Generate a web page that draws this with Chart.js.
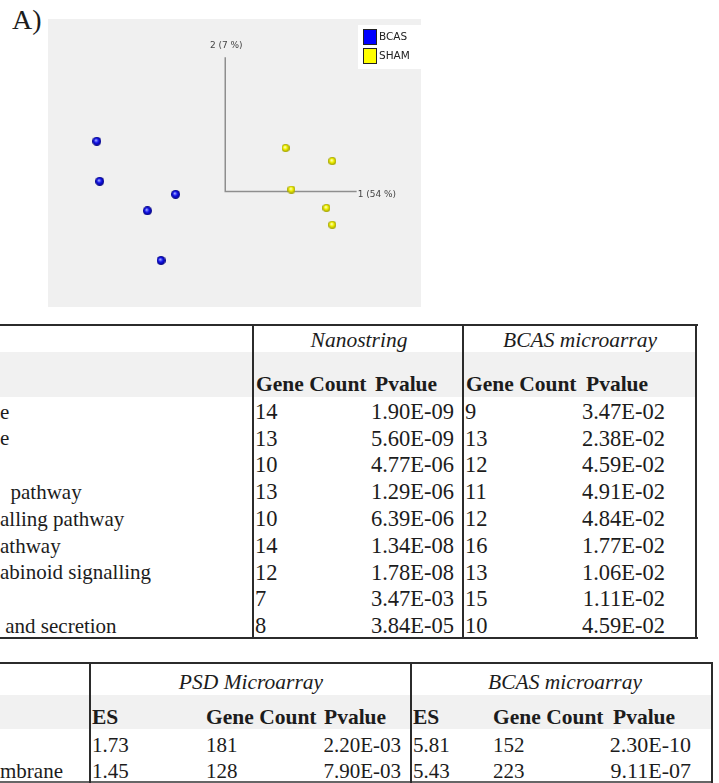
<!DOCTYPE html>
<html>
<head>
<meta charset="utf-8">
<script src="https://cdn.jsdelivr.net/npm/chart.js@4/dist/chart.umd.min.js"></script>
<style>
  html, body { margin:0; padding:0; background:#fff; }
  #page { position:relative; width:719px; height:783px; overflow:hidden; background:#fff; }
  .t { position:absolute; white-space:pre; font-family:"Liberation Serif","Times New Roman",serif; color:#1c1c1c; }
  .r { position:absolute; }
</style>
</head>
<body>
<div id="page">
  <canvas id="pca" width="373" height="288" style="position:absolute;left:48px;top:19px;width:373px;height:288px"></canvas>
</div>
<script>
// ---------------- DATA ----------------
// PCA scores (component 1, component 2), arbitrary units
const bcasPC1 = [-13.2, -12.9, -5.1, -8.0, -6.6];
const bcasPC2 = [5.2, 1.05, -0.3, -2.0, -7.15];
const shamPC1 = [6.2, 11.0, 6.8, 10.4, 11.0];
const shamPC2 = [4.5, 3.15, 0.2, -1.7, -3.45];
const groupNames = ["BCAS", "SHAM"];
const axisLabels = ["1 (54 %)", "2 (7 %)"];
const axisLength = [13.5, 13.9];

// Table 1
const t1Groups = ["Nanostring", "BCAS microarray"];
const t1SubHeads = ["Gene Count", "Pvalue"];
const t1Labels = ["e", "e", "", "  pathway", "alling pathway", "athway", "abinoid signalling", "", " and secretion"];
const nanoGeneCount = [14, 13, 10, 13, 10, 14, 12, 7, 8];
const nanoPvalue = ["1.90E-09", "5.60E-09", "4.77E-06", "1.29E-06", "6.39E-06", "1.34E-08", "1.78E-08", "3.47E-03", "3.84E-05"];
const bcasGeneCount = [9, 13, 12, 11, 12, 16, 13, 15, 10];
const bcasPvalue = ["3.47E-02", "2.38E-02", "4.59E-02", "4.91E-02", "4.84E-02", "1.77E-02", "1.06E-02", "1.11E-02", "4.59E-02"];

// Table 2
const t2Groups = ["PSD Microarray", "BCAS microarray"];
const t2SubHeads = ["ES", "Gene Count", "Pvalue"];
const t2Labels = ["", "mbrane"];
const psdES = ["1.73", "1.45"];
const psdGeneCount = [181, 128];
const psdPvalue = ["2.20E-03", "7.90E-03"];
const bcas2ES = ["5.81", "5.43"];
const bcas2GeneCount = [152, 223];
const bcas2Pvalue = ["2.30E-10", "9.11E-07"];

// ---------------- HTML helpers ----------------
const page = document.getElementById('page');
const FS = 21.5;
function txt(s, x, y, o) {
  o = o || {};
  const d = document.createElement('div');
  d.className = 't';
  d.textContent = s;
  const fs = o.size || FS;
  d.style.fontSize = fs + 'px';
  d.style.lineHeight = fs + 'px';
  d.style.top = (y - fs / 2) + 'px';
  if (o.bold) d.style.fontWeight = 'bold';
  if (o.italic) d.style.fontStyle = 'italic';
  if (o.align === 'right') { d.style.right = (719 - x) + 'px'; d.style.textAlign = 'right'; }
  else if (o.align === 'center') { d.style.left = (x - 150) + 'px'; d.style.width = '300px'; d.style.textAlign = 'center'; }
  else d.style.left = x + 'px';
  page.appendChild(d);
}
function rect(x, y, w, h, c) {
  const d = document.createElement('div');
  d.className = 'r';
  Object.assign(d.style, { left: x + 'px', top: y + 'px', width: w + 'px', height: h + 'px', background: c });
  page.appendChild(d);
}
const LINE = '#2b2b2b', BAND = '#f1f1f1';

// "A)" panel label
txt("A)", 12, 20, { size: 28 });

// ---------------- Table 1 ----------------
rect(0, 352, 696, 45, BAND);
rect(0, 324, 698, 2, LINE);
rect(0, 637, 698, 2, LINE);
rect(252, 324, 2, 315, LINE);
rect(462, 324, 2, 315, LINE);
rect(695, 324, 2, 315, LINE);
txt(t1Groups[0], 359, 341, { italic: true, align: 'center' });
txt(t1Groups[1], 580, 341, { italic: true, align: 'center' });
txt(t1SubHeads[0], 256, 385, { bold: true });
txt(t1SubHeads[1], 375, 385, { bold: true });
txt(t1SubHeads[0], 466, 385, { bold: true });
txt(t1SubHeads[1], 586, 385, { bold: true });
const N1 = 22.5;
t1Labels.forEach((lab, i) => {
  const y = 412 + i * 26.8;
  txt(lab, 0, y, { size: 21 });
  txt(String(nanoGeneCount[i]), 255, y, { size: N1 });
  txt(nanoPvalue[i], 454, y, { align: 'right', size: N1 });
  txt(String(bcasGeneCount[i]), 465, y, { size: N1 });
  txt(bcasPvalue[i], 665, y, { align: 'right', size: N1 });
});

// ---------------- Table 2 ----------------
rect(0, 695, 711, 34, BAND);
rect(0, 662, 713, 2, LINE);
rect(0, 781, 713, 2, '#666');
rect(89, 662, 2, 121, LINE);
rect(410, 662, 2, 121, LINE);
rect(711, 662, 2, 121, LINE);
txt(t2Groups[0], 251, 683, { italic: true, align: 'center' });
txt(t2Groups[1], 565, 683, { italic: true, align: 'center' });
txt(t2SubHeads[0], 92, 718, { bold: true });
txt(t2SubHeads[1], 206, 718, { bold: true });
txt(t2SubHeads[2], 324, 718, { bold: true });
txt(t2SubHeads[0], 413, 718, { bold: true });
txt(t2SubHeads[1], 493, 718, { bold: true });
txt(t2SubHeads[2], 613, 718, { bold: true });
const N2 = 21;
t2Labels.forEach((lab, i) => {
  const y = 745 + i * 26;
  txt(lab, 0, y, { size: N2 });
  txt(psdES[i], 92, y, { size: N2 });
  txt(String(psdGeneCount[i]), 206, y, { size: N2 });
  txt(psdPvalue[i], 401, y, { align: 'right', size: N2 });
  txt(bcas2ES[i], 413, y, { size: N2 });
  txt(String(bcas2GeneCount[i]), 493, y, { size: N2 });
  txt(bcas2Pvalue[i], 691, y, { align: 'right', size: N2 + 1 });
});

// ---------------- PCA chart ----------------
function sphere(d, c0, c1, c2) {
  const c = document.createElement('canvas');
  c.width = d; c.height = d;
  const x = c.getContext('2d');
  const r = d / 2;
  const g = x.createRadialGradient(r * 0.8, r * 0.75, r * 0.05, r, r, r);
  g.addColorStop(0, c0); g.addColorStop(0.45, c1); g.addColorStop(1, c2);
  x.fillStyle = g;
  x.beginPath(); x.arc(r, r, r, 0, Math.PI * 2); x.fill();
  return c;
}
const blueBall = sphere(9, '#aab4ff', '#1414ee', '#00007a');
const yellowBall = sphere(8, '#ffffd8', '#f4f400', '#9c9c00');

const bgPlugin = {
  id: 'pcaDecor',
  beforeDraw(chart) {
    const ctx = chart.ctx;
    ctx.save();
    ctx.fillStyle = '#f0f0f0';
    ctx.fillRect(0, 0, chart.width, chart.height);
    ctx.restore();
  },
  afterDraw(chart) {
    const ctx = chart.ctx, xs = chart.scales.x, ys = chart.scales.y;
    ctx.save();
    ctx.font = '9px "DejaVu Sans", sans-serif';
    ctx.fillStyle = '#444';
    // component 1 label
    ctx.textAlign = 'left'; ctx.textBaseline = 'middle';
    ctx.fillText(axisLabels[0], xs.getPixelForValue(axisLength[0]) + 1, ys.getPixelForValue(0) + 3.5);
    // component 2 label
    ctx.textAlign = 'center';
    ctx.fillText(axisLabels[1], xs.getPixelForValue(0) + 1, ys.getPixelForValue(axisLength[1]) - 12);
    // legend
    const lx = 310, ly = 6;
    ctx.fillStyle = '#ffffff';
    ctx.fillRect(lx, ly, 63, 44);
    const cols = ['#0000ff', '#ffff00'];
    ctx.font = '10.5px "DejaVu Sans", sans-serif';
    groupNames.forEach((n, i) => {
      const by = ly + 4 + i * 19;
      ctx.fillStyle = cols[i];
      ctx.fillRect(lx + 5, by, 14, 16);
      ctx.strokeStyle = '#222'; ctx.lineWidth = 1;
      ctx.strokeRect(lx + 5.5, by + 0.5, 13, 15);
      ctx.fillStyle = '#222';
      ctx.textAlign = 'left'; ctx.textBaseline = 'middle';
      ctx.fillText(n, lx + 21, by + 8.5);
    });
    ctx.restore();
  }
};

new Chart(document.getElementById('pca'), {
  type: 'scatter',
  data: {
    datasets: [
      {
        label: 'axes',
        type: 'line',
        data: [{ x: 0, y: axisLength[1] }, { x: 0, y: 0 }, { x: axisLength[0], y: 0 }],
        borderColor: '#8e8e8e', borderWidth: 1.5, pointRadius: 0, fill: false, tension: 0,
        order: 3
      },
      {
        label: groupNames[0],
        data: bcasPC1.map((v, i) => ({ x: v, y: bcasPC2[i] })),
        pointStyle: blueBall, order: 1
      },
      {
        label: groupNames[1],
        data: shamPC1.map((v, i) => ({ x: v, y: shamPC2[i] })),
        pointStyle: yellowBall, order: 1
      }
    ]
  },
  options: {
    responsive: false,
    animation: false,
    devicePixelRatio: 1,
    layout: { padding: 0 },
    scales: {
      x: { type: 'linear', min: -17.7, max: 19.6, display: false },
      y: { type: 'linear', min: -11.45, max: 17.35, display: false }
    },
    plugins: { legend: { display: false }, tooltip: { enabled: false } }
  },
  plugins: [bgPlugin]
});
</script>
</body>
</html>
